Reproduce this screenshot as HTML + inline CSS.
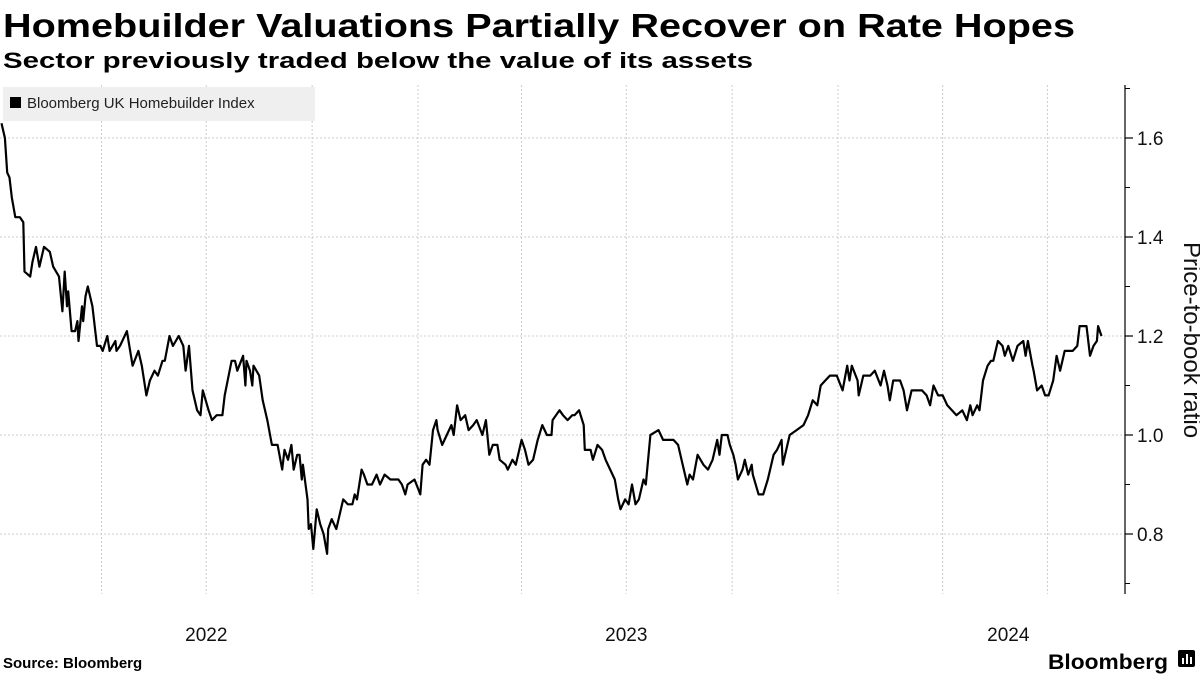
<!DOCTYPE html>
<html><head><meta charset="utf-8"><style>
html,body{margin:0;padding:0;background:#fff;}
svg{display:block;font-family:"Liberation Sans",sans-serif;}
</style></head><body>
<svg id="chart" width="1200" height="675" viewBox="0 0 1200 675">
<text x="3" y="37" font-size="33" font-weight="bold" textLength="1072" lengthAdjust="spacingAndGlyphs">Homebuilder Valuations Partially Recover on Rate Hopes</text>
<text x="3" y="68" font-size="22" font-weight="bold" textLength="750" lengthAdjust="spacingAndGlyphs">Sector previously traded below the value of its assets</text>
<g id="grid"></g>
<g id="axis"></g>
<g id="xlabels"></g>
<path id="line" fill="none" stroke="#000" stroke-width="2.2" stroke-linejoin="round"/>
<g>
<rect x="3" y="87" width="312" height="34" fill="#efefef"/>
<rect x="10" y="97" width="11" height="11" fill="#000"/>
<text x="27" y="108" font-size="15" fill="#222">Bloomberg UK Homebuilder Index</text>
</g>
<text transform="translate(1184,340) rotate(90)" text-anchor="middle" font-size="24" fill="#111">Price-to-book ratio</text>
<text x="3" y="668" font-size="15" font-weight="bold">Source: Bloomberg</text>
<text x="1048" y="669" font-size="21" font-weight="bold" textLength="120" lengthAdjust="spacingAndGlyphs">Bloomberg</text>
<g>
<rect x="1178" y="650" width="17" height="17" rx="2" fill="#000"/>
<rect x="1182" y="658" width="2" height="6" fill="#fff"/><rect x="1186" y="654" width="2" height="10" fill="#fff"/><rect x="1190" y="657" width="2" height="7" fill="#fff"/>
</g>
</svg>
<script>
const days = [3,6,8,10,12,15,19,22,23,28,30,33,36,40,45,48,53,56,58,60,61,64,67,69,70,73,74,76,78,82,86,89,91,95,97,102,103,106,112,117,122,125,129,132,136,139,143,145,149,152,157,161,163,166,169,173,176,178,183,186,190,195,197,203,206,208,213,215,216,219,221,222,227,230,234,238,243,247,249,252,255,257,260,262,264,265,269,270,272,274,277,280,283,286,
287,290,294,300,304,308,310,312,316,318,321,325,329,332,336,341,345,348,351,354,356,362,367,369,372,375,378,381,382,386,390,394,396,399,402,406,409,413,416,421,424,427,430,434,436,441,443,447,450,455,458,461,465,469,473,477,481,482,488,491,495,499,501,505,509,510,515,517,521,525,528,532,536,539,541,545,548,551,554,557,561,563,567,574,578,582,587,591,595,599,601,604,608,613,617,621,625,627,629,634,636,639,641,643,
647,649,652,655,656,661,665,669,674,677,681,682,686,688,694,700,704,708,712,715,719,723,729,734,738,740,742,747,748,752,758,762,767,770,773,775,778,784,787,790,794,799,803,807,810,813,817,821,825,829,833,838,842,845,847,851,853,856,860,863,865,869,873,875,878,882,886,891,893,895,899,900,903,907,910,913,917,920,923,927,930,934,938,940,946,949,952,955,956,959];
const values = [1.63,1.60,1.53,1.52,1.48,1.44,1.44,1.43,1.33,1.32,1.35,1.38,1.34,1.38,1.37,1.34,1.32,1.25,1.33,1.26,1.29,1.21,1.21,1.23,1.19,1.26,1.23,1.28,1.30,1.26,1.18,1.18,1.17,1.20,1.17,1.19,1.17,1.18,1.21,1.14,1.17,1.14,1.08,1.11,1.13,1.12,1.15,1.15,1.20,1.18,1.20,1.18,1.13,1.18,1.09,1.05,1.04,1.09,1.05,1.03,1.04,1.04,1.08,1.15,1.15,1.13,1.16,1.10,1.15,1.13,1.10,1.14,1.12,1.07,1.03,0.98,0.98,0.93,0.97,0.95,0.98,0.93,0.96,0.96,0.91,0.94,0.87,0.81,0.82,0.77,0.85,0.82,0.80,0.76,
0.81,0.83,0.81,0.87,0.86,0.86,0.88,0.87,0.93,0.92,0.90,0.90,0.92,0.90,0.92,0.91,0.91,0.91,0.90,0.88,0.90,0.91,0.88,0.94,0.95,0.94,1.01,1.03,1.01,0.98,1.00,1.02,1.00,1.06,1.03,1.04,1.01,1.02,1.03,1.00,1.03,0.96,0.98,0.98,0.95,0.94,0.93,0.95,0.94,0.99,0.97,0.94,0.95,0.99,1.02,1.00,1.00,1.03,1.05,1.04,1.03,1.04,1.04,1.05,1.02,0.97,0.97,0.95,0.98,0.97,0.95,0.93,0.91,0.87,0.85,0.87,0.86,0.90,0.86,0.87,0.91,0.90,1.00,1.01,0.99,0.99,0.99,0.98,0.94,0.90,0.92,0.91,0.96,0.94,0.93,0.95,0.99,0.96,1.00,1.00,0.98,0.96,0.94,0.91,
0.93,0.95,0.92,0.94,0.92,0.88,0.88,0.91,0.96,0.97,0.99,0.94,0.98,1.00,1.01,1.02,1.04,1.07,1.06,1.10,1.11,1.12,1.12,1.09,1.14,1.11,1.14,1.11,1.08,1.12,1.12,1.13,1.10,1.13,1.10,1.07,1.11,1.11,1.09,1.05,1.09,1.09,1.09,1.08,1.06,1.10,1.08,1.08,1.06,1.05,1.04,1.05,1.03,1.06,1.04,1.06,1.05,1.11,1.14,1.15,1.15,1.19,1.18,1.16,1.18,1.15,1.18,1.19,1.16,1.19,1.14,1.13,1.09,1.10,1.08,1.08,1.11,1.16,1.13,1.17,1.17,1.17,1.18,1.22,1.22,1.16,1.18,1.19,1.22,1.20];
const yTicks = [0.8,1.0,1.2,1.4,1.6];
const yTickLabels = ["0.8","1.0","1.2","1.4","1.6"];
const quarterDays = [90,181,273,365,455,546,638,730,821,912];
const yearLabels = ["2022","2023","2024"];
const yearMidDays = [181,546,878];

const NS="http://www.w3.org/2000/svg";
const xS = d => -2 + d*420/365;
const yS = v => 435 - (v-1.0)*495;
function mk(tag, attrs, parent){const e=document.createElementNS(NS,tag);for(const k in attrs)e.setAttribute(k,attrs[k]);parent.appendChild(e);return e;}
const grid=document.getElementById('grid'), axis=document.getElementById('axis'), xl=document.getElementById('xlabels');
yTicks.forEach((t,i)=>{
  const g=mk('line',{x1:0,x2:1125,y1:yS(t),y2:yS(t),stroke:'#cccccc','stroke-width':1,'stroke-dasharray':'2,2'},grid);
  
  
  const tk=mk('line',{x1:1125,x2:1133,y1:yS(t),y2:yS(t),stroke:'#000','stroke-width':1.2},axis);
  
  
  const tx=mk('text',{x:1137,y:yS(t)+7,'font-size':19,fill:'#111'},axis);
  tx.textContent=yTickLabels[i];
  
  
});
for(let v=0.7; v<1.75; v+=0.1){
  if(Math.abs(Math.round(v*5)-v*5)<0.01) continue;
  const m=mk('line',{x1:1125,x2:1130,y1:yS(v),y2:yS(v),stroke:'#000','stroke-width':1},axis);
  
  
}
const al=mk('line',{x1:1125,x2:1125,y1:85,y2:594,stroke:'#000','stroke-width':1.2},axis);


quarterDays.forEach(d=>{
  const g=mk('line',{x1:xS(d),x2:xS(d),y1:85,y2:594,stroke:'#cccccc','stroke-width':1,'stroke-dasharray':'2,2'},grid);
  
  
});
yearLabels.forEach((l,i)=>{
  const t=mk('text',{x:xS(yearMidDays[i]),y:641,'font-size':19,'text-anchor':'middle',fill:'#111'},xl);
  t.textContent=l;
  
  
});
let d='';
days.forEach((dd,i)=>{d+=(i?'L':'M')+xS(dd).toFixed(1)+','+yS(values[i]).toFixed(1);});
document.getElementById('line').setAttribute('d',d);
</script>
</body></html>
